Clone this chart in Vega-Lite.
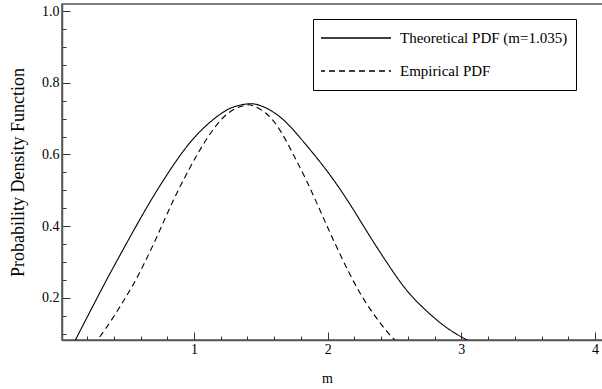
{
  "$schema": "https://vega.github.io/schema/vega-lite/v6.json",
  "width": 545,
  "height": 336,
  "autosize": {"type": "none"},
  "padding": {"left": 62, "top": 4, "right": 0, "bottom": 49},
  "background": "white",
  "config": {
    "view": {"stroke": "#555", "strokeWidth": 1.5},
    "font": "Liberation Serif",
    "axis": {
      "labelFont": "Liberation Serif",
      "titleFont": "Liberation Serif",
      "labelColor": "black",
      "titleColor": "black",
      "titleFontWeight": "normal",
      "domainColor": "#555",
      "domainWidth": 1.5,
      "tickColor": "#333",
      "tickWidth": 1,
      "grid": false
    },
    "legend": {
      "labelFont": "Liberation Serif"
    }
  },
  "data": {
    "values": [
      {"m": 0.03, "pdf": 0.022, "series": "Theoretical PDF (m=1.035)"},
      {"m": 0.117, "pdf": 0.085, "series": "Theoretical PDF (m=1.035)"},
      {"m": 0.297, "pdf": 0.215, "series": "Theoretical PDF (m=1.035)"},
      {"m": 0.422, "pdf": 0.302, "series": "Theoretical PDF (m=1.035)"},
      {"m": 0.596, "pdf": 0.419, "series": "Theoretical PDF (m=1.035)"},
      {"m": 0.746, "pdf": 0.513, "series": "Theoretical PDF (m=1.035)"},
      {"m": 0.896, "pdf": 0.597, "series": "Theoretical PDF (m=1.035)"},
      {"m": 1.045, "pdf": 0.664, "series": "Theoretical PDF (m=1.035)"},
      {"m": 1.195, "pdf": 0.712, "series": "Theoretical PDF (m=1.035)"},
      {"m": 1.3, "pdf": 0.733, "series": "Theoretical PDF (m=1.035)"},
      {"m": 1.4, "pdf": 0.741, "series": "Theoretical PDF (m=1.035)"},
      {"m": 1.5, "pdf": 0.736, "series": "Theoretical PDF (m=1.035)"},
      {"m": 1.643, "pdf": 0.705, "series": "Theoretical PDF (m=1.035)"},
      {"m": 1.793, "pdf": 0.647, "series": "Theoretical PDF (m=1.035)"},
      {"m": 1.993, "pdf": 0.555, "series": "Theoretical PDF (m=1.035)"},
      {"m": 2.167, "pdf": 0.461, "series": "Theoretical PDF (m=1.035)"},
      {"m": 2.317, "pdf": 0.371, "series": "Theoretical PDF (m=1.035)"},
      {"m": 2.467, "pdf": 0.285, "series": "Theoretical PDF (m=1.035)"},
      {"m": 2.616, "pdf": 0.21, "series": "Theoretical PDF (m=1.035)"},
      {"m": 2.791, "pdf": 0.146, "series": "Theoretical PDF (m=1.035)"},
      {"m": 2.916, "pdf": 0.11, "series": "Theoretical PDF (m=1.035)"},
      {"m": 3.028, "pdf": 0.085, "series": "Theoretical PDF (m=1.035)"},
      {"m": 3.15, "pdf": 0.063, "series": "Theoretical PDF (m=1.035)"},
      {"m": 0.2, "pdf": 0.048, "series": "Empirical PDF"},
      {"m": 0.284, "pdf": 0.085, "series": "Empirical PDF"},
      {"m": 0.397, "pdf": 0.146, "series": "Empirical PDF"},
      {"m": 0.497, "pdf": 0.206, "series": "Empirical PDF"},
      {"m": 0.596, "pdf": 0.272, "series": "Empirical PDF"},
      {"m": 0.721, "pdf": 0.369, "series": "Empirical PDF"},
      {"m": 0.846, "pdf": 0.472, "series": "Empirical PDF"},
      {"m": 0.97, "pdf": 0.563, "series": "Empirical PDF"},
      {"m": 1.095, "pdf": 0.643, "series": "Empirical PDF"},
      {"m": 1.245, "pdf": 0.712, "series": "Empirical PDF"},
      {"m": 1.381, "pdf": 0.737, "series": "Empirical PDF"},
      {"m": 1.45, "pdf": 0.735, "series": "Empirical PDF"},
      {"m": 1.544, "pdf": 0.713, "series": "Empirical PDF"},
      {"m": 1.643, "pdf": 0.668, "series": "Empirical PDF"},
      {"m": 1.743, "pdf": 0.6, "series": "Empirical PDF"},
      {"m": 1.843, "pdf": 0.526, "series": "Empirical PDF"},
      {"m": 1.942, "pdf": 0.445, "series": "Empirical PDF"},
      {"m": 2.042, "pdf": 0.362, "series": "Empirical PDF"},
      {"m": 2.167, "pdf": 0.265, "series": "Empirical PDF"},
      {"m": 2.292, "pdf": 0.183, "series": "Empirical PDF"},
      {"m": 2.417, "pdf": 0.118, "series": "Empirical PDF"},
      {"m": 2.487, "pdf": 0.088, "series": "Empirical PDF"},
      {"m": 2.55, "pdf": 0.065, "series": "Empirical PDF"}
    ]
  },
  "mark": {"type": "line", "clip": true, "interpolate": "natural", "strokeWidth": 1.1, "color": "black"},
  "encoding": {
    "x": {
      "field": "m",
      "type": "quantitative",
      "scale": {"domain": [0.0127, 4.09], "nice": false, "zero": false},
      "axis": {
        "title": "m",
        "titleFont": "Liberation Serif",
        "titleFontSize": 14,
        "titleX": 265,
        "titleY": 42,
        "titleBaseline": "alphabetic",
        "values": [0.2, 0.4, 0.6, 0.8, 1, 1.2, 1.4, 1.6, 1.8, 2, 2.2, 2.4, 2.6, 2.8, 3, 3.2, 3.4, 3.6, 3.8, 4],
        "format": ".0f",
        "labelExpr": "abs(datum.value - round(datum.value)) < 0.001 ? datum.label : ''",
        "labelFont": "Liberation Serif",
        "labelFontSize": 14,
        "labelPadding": 10,
        "tickSize": {"condition": {"test": "abs(datum.value - round(datum.value)) < 0.001", "value": -8}, "value": -4}
      }
    },
    "y": {
      "field": "pdf",
      "type": "quantitative",
      "scale": {"domain": [0.082, 1.02], "nice": false, "zero": false},
      "axis": {
        "title": "Probability Density Function",
        "titleFont": "Liberation Serif",
        "titleFontSize": 18,
        "titleX": -44,
        "titleY": 168,
        "titleAngle": -90,
        "titleAlign": "center",
        "titleBaseline": "middle",
        "values": [0.1, 0.15, 0.2, 0.25, 0.3, 0.35, 0.4, 0.45, 0.5, 0.55, 0.6, 0.65, 0.7, 0.75, 0.8, 0.85, 0.9, 0.95, 1.0],
        "format": ".1f",
        "labelExpr": "abs(datum.value * 5 - round(datum.value * 5)) < 0.001 ? datum.label : ''",
        "labelFont": "Liberation Serif",
        "labelFontSize": 14,
        "labelPadding": 11,
        "tickSize": {"condition": {"test": "abs(datum.value * 5 - round(datum.value * 5)) < 0.001", "value": -8}, "value": -4}
      }
    },
    "strokeDash": {
      "field": "series",
      "type": "nominal",
      "scale": {"domain": ["Theoretical PDF (m=1.035)", "Empirical PDF"], "range": [[1, 0], [6, 4]]},
      "legend": {
        "title": null,
        "orient": "none",
        "legendX": 251,
        "legendY": 15,
        "symbolType": "stroke",
        "symbolSize": 5184,
        "symbolStrokeColor": "black",
        "symbolStrokeWidth": 1.3,
        "clipHeight": 22,
        "rowPadding": 11,
        "padding": 8,
        "symbolOffset": -3,
        "labelFont": "Liberation Serif",
        "labelFontSize": 15,
        "labelColor": "black",
        "labelOffset": 8,
        "labelLimit": 400,
        "strokeColor": "black",
        "fillColor": "white"
      }
    }
  }
}
